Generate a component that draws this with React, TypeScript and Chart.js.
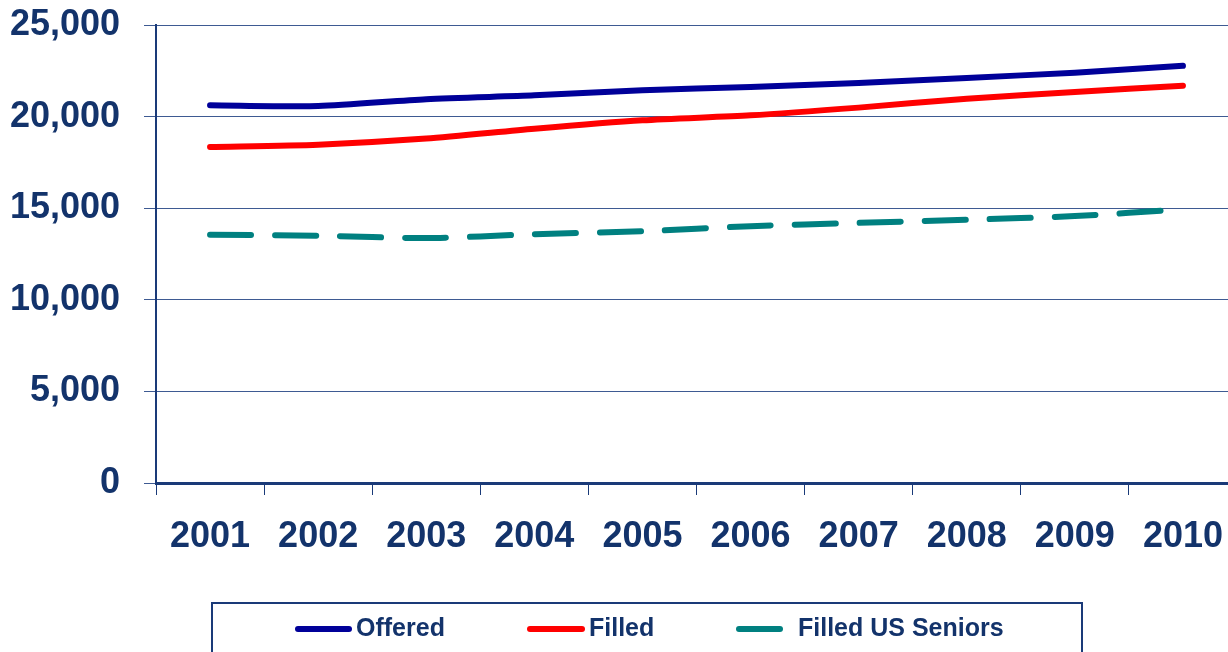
import React, { useEffect, useRef } from "react";
import { Chart, registerables } from "chart.js";

Chart.register(...registerables);

const years = ["2001", "2002", "2003", "2004", "2005", "2006", "2007", "2008", "2009", "2010"];
const offered = [20620, 20580, 20950, 21160, 21440, 21620, 21840, 22110, 22400, 22770];
const filled = [18340, 18470, 18800, 19340, 19800, 20070, 20490, 20980, 21340, 21690];
const filledUSSeniors = [13550, 13500, 13370, 13580, 13740, 14020, 14200, 14370, 14570, 14940];
const yTicks = [0, 5000, 10000, 15000, 20000, 25000];

const NAVY = "#13336B";
const AXIS = "#1A3A78";
const FONT = "'Liberation Sans', Arial, sans-serif";

const legendPlugin = {
  id: "boxLegend",
  afterDraw(chart: any) {
    const ctx = chart.ctx;
    ctx.save();
    ctx.strokeStyle = AXIS;
    ctx.lineWidth = 2;
    ctx.strokeRect(212, 603, 870, 80);
    const spots = [
      { x1: 298, x2: 349, tx: 356 },
      { x1: 530, x2: 582, tx: 589 },
      { x1: 739, x2: 780, tx: 798 },
    ];
    const y = 629;
    chart.data.datasets.forEach((ds: any, i: number) => {
      const s = spots[i];
      ctx.beginPath();
      ctx.strokeStyle = ds.borderColor;
      ctx.lineWidth = 6;
      ctx.lineCap = "round";
      ctx.setLineDash([]);
      ctx.moveTo(s.x1, y);
      ctx.lineTo(s.x2, y);
      ctx.stroke();
      ctx.fillStyle = NAVY;
      ctx.font = `bold 25px ${FONT}`;
      ctx.textBaseline = "middle";
      ctx.textAlign = "left";
      ctx.fillText(ds.label, s.tx, y);
    });
    ctx.restore();
  },
};

export default function App() {
  const ref = useRef<HTMLCanvasElement>(null);
  useEffect(() => {
    if (!ref.current) return;
    const chart = new Chart(ref.current, {
      type: "line",
      data: {
        labels: years,
        datasets: [
          {
            label: "Offered",
            data: offered,
            borderColor: "#000099",
            borderWidth: 6,
            borderCapStyle: "round",
            pointRadius: 0,
            tension: 0.25,
          },
          {
            label: "Filled",
            data: filled,
            borderColor: "#FF0000",
            borderWidth: 6,
            borderCapStyle: "round",
            pointRadius: 0,
            tension: 0.25,
          },
          {
            label: "Filled US Seniors",
            data: filledUSSeniors,
            borderColor: "#008080",
            borderWidth: 6,
            borderCapStyle: "round",
            borderDash: [41, 24],
            pointRadius: 0,
            tension: 0.25,
          },
        ],
      },
      options: {
        responsive: false,
        animation: false,
        layout: { padding: { top: 25, right: 3, left: 0, bottom: 0 } },
        plugins: {
          legend: { display: false },
          tooltip: { enabled: false },
        },
        scales: {
          x: {
            type: "category",
            offset: true,
            grid: {
              offset: true,
              drawOnChartArea: false,
              drawTicks: true,
              tickLength: 12,
              color: AXIS,
              lineWidth: 1,
            },
            border: { color: AXIS, width: 3 },
            ticks: {
              color: NAVY,
              font: { family: FONT, size: 36, weight: "bold" },
              padding: 20,
              maxRotation: 0,
              autoSkip: false,
            },
            afterFit: (scale: any) => {
              scale.height = 169;
              scale.paddingLeft = 0;
              scale.paddingRight = 0;
            },
          },
          y: {
            min: 0,
            max: 25000,
            afterBuildTicks: (scale: any) => {
              scale.ticks = yTicks.map((v) => ({ value: v }));
            },
            grid: {
              color: "#3E5A92",
              lineWidth: 1,
              tickLength: 12,
              drawTicks: true,
            },
            border: { color: AXIS, width: 2 },
            ticks: {
              color: NAVY,
              font: { family: FONT, size: 36, weight: "bold" },
              padding: 24,
              callback: (v: any) => Number(v).toLocaleString("en-US"),
            },
            afterFit: (scale: any) => {
              scale.width = 156;
              scale.paddingTop = 0;
              scale.paddingBottom = 0;
            },
          },
        },
      },
      plugins: [legendPlugin],
    });
    return () => chart.destroy();
  }, []);
  return (
    <div
      style={{
        position: "absolute",
        left: 0,
        top: 0,
        width: 1228,
        height: 652,
        overflow: "hidden",
        background: "#fff",
      }}
    >
      <canvas ref={ref} width={1240} height={652} style={{ width: 1240, height: 652, display: "block" }} />
    </div>
  );
}
